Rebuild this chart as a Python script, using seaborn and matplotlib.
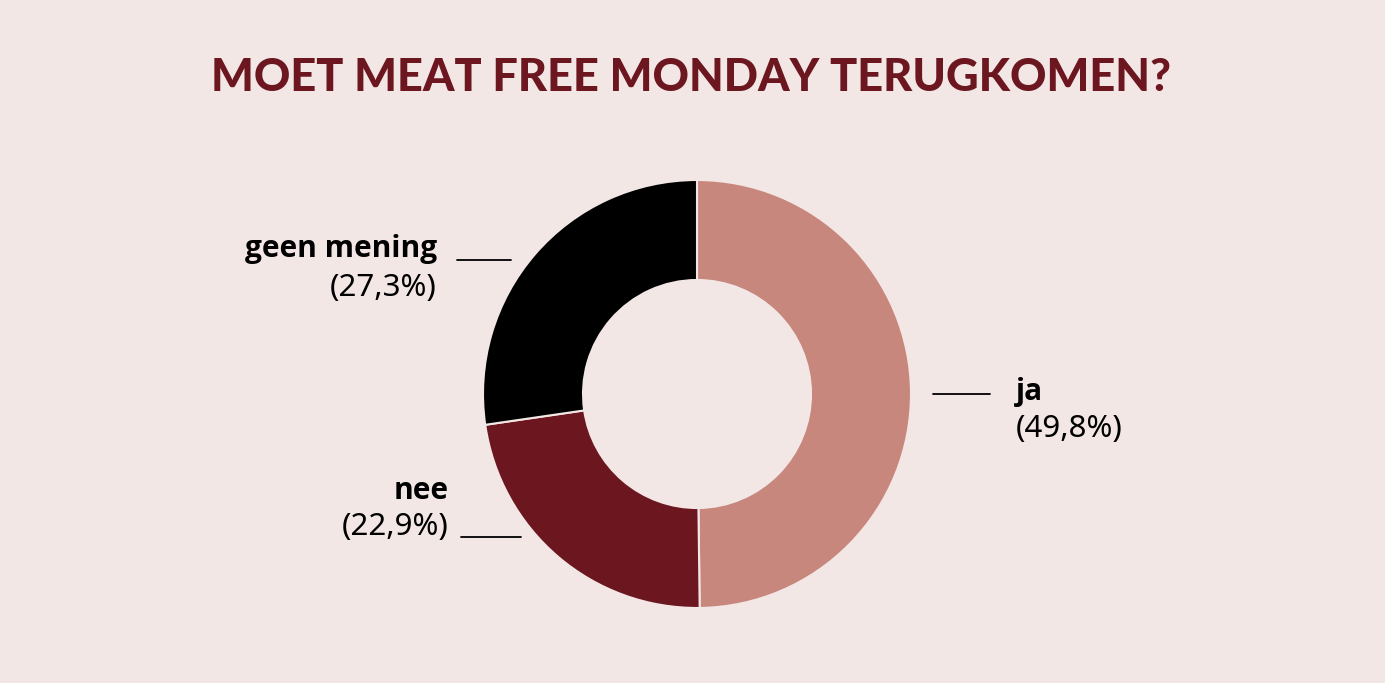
import matplotlib
matplotlib.use("Agg")
import matplotlib.pyplot as plt
import seaborn as sns
from matplotlib.lines import Line2D

categories = ["ja", "nee", "geen mening"]
values = [49.8, 22.9, 27.3]
value_labels = ["(49,8%)", "(22,9%)", "(27,3%)"]
colors = ["#C8877D", "#6C1720", "#000000"]
title = "MOET MEAT FREE MONDAY TERUGKOMEN?"

BG = "#F3E7E6"
W, H = 1385, 683

sns.set_theme(style="white")
plt.rcParams["font.family"] = ["Noto Sans", "DejaVu Sans"]

fig = plt.figure(figsize=(W / 100, H / 100), dpi=100, facecolor=BG)

cx, cy, r = 697, 394, 214
ax = fig.add_axes([(cx - r) / W, (H - cy - r) / H, 2 * r / W, 2 * r / H])
ax.set_facecolor(BG)
ax.pie(values, colors=colors, startangle=90, counterclock=False,
       radius=1.0, wedgeprops=dict(width=1 - 114 / 214, edgecolor=BG, linewidth=1.5))
ax.set_xlim(-1.0, 1.0)
ax.set_ylim(-1.0, 1.0)
ax.set_aspect("equal")
ax.axis("off")

def px(x, y):
    return x / W, 1 - y / H

fig.text(*px(691, 78), title, ha="center", va="center", fontsize=32.5,
         fontweight="black", color="#6C1720", family=["Lato", "DejaVu Sans"])

label_cfg = {
    "ja": dict(name=(1016, 392), val=(1016, 429), ha="left", line=((933, 990), 394)),
    "nee": dict(name=(449, 491), val=(449, 527), ha="right", line=((461, 521), 537)),
    "geen mening": dict(name=(437, 249), val=(437, 288), ha="right", line=((457, 511), 260)),
}

for cat, vl in zip(categories, value_labels):
    c = label_cfg[cat]
    fig.text(*px(*c["name"]), cat, ha=c["ha"], va="center", fontsize=21.5,
             fontweight="bold", color="#000000", family=["Open Sans", "DejaVu Sans"])
    fig.text(*px(*c["val"]), vl, ha=c["ha"], va="center", fontsize=22.5,
             color="#000000")
    (x0, x1), y = c["line"]
    fig.add_artist(Line2D([x0 / W, x1 / W], [1 - y / H, 1 - y / H],
                          transform=fig.transFigure, color="#000000", linewidth=1.3))

fig.savefig("out.png", dpi=100, facecolor=BG)
